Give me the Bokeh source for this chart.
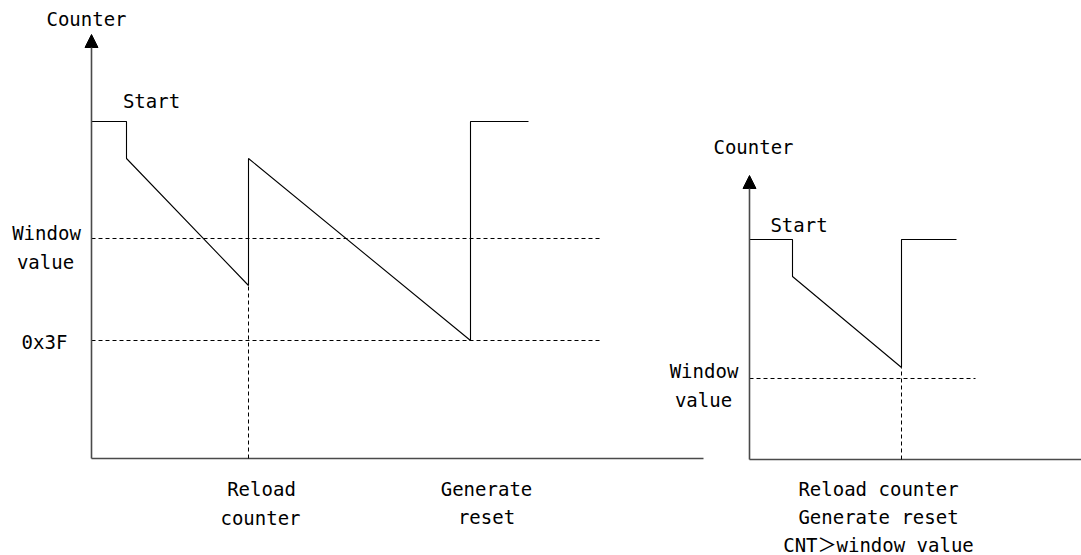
from bokeh.plotting import figure
from bokeh.models import Range1d, Arrow, NormalHead, ColumnDataSource
from bokeh.core.properties import value
from bokeh.embed import file_html
from bokeh.resources import INLINE

# ---------------- data (time units / counter units, origin at axes crossing) -------------
# Left panel: window watchdog normal refresh
left_time = [0, 35, 35, 157, 157, 379, 379, 437]
left_counter = [337, 337, 300, 173, 300, 118, 337, 337]
left_window = 220
left_0x3f = 118
left_reload_t = 157
left_reset_t = 379
left_t_max = 612
left_c_max = 424
left_dash_end = 509

# Right panel: refresh while CNT > window value
right_time = [0, 43, 43, 152, 152, 207]
right_counter = [220, 220, 183, 92, 220, 220]
right_window = 81
right_reload_t = 152
right_t_max = 340
right_c_max = 284
right_dash_end = 226

FONT = value("DejaVu Sans Mono, Noto Sans CJK SC")
FS = "19px"
AXIS_COLOR = "#4a4a4a"
W, H = 1081, 555

p = figure(width=W, height=H, x_range=Range1d(-91, W - 91), y_range=Range1d(-97, H - 97),
           x_axis_type=None, y_axis_type=None, toolbar_location=None,
           output_backend="svg", min_border=0, outline_line_color=None,
           background_fill_color="white", border_fill_color="white")
p.grid.visible = False
p.extra_x_ranges = {"rx": Range1d(-749, W - 749)}
p.extra_y_ranges = {"ry": Range1d(-96, H - 96)}

DEF = dict(x_range_name="default", y_range_name="default")
RGT = dict(x_range_name="rx", y_range_name="ry")


def draw_axes(t_max, c_max, rn):
    p.line([0, t_max], [0, 0], line_color=AXIS_COLOR, line_width=1.6, **rn)
    p.add_layout(Arrow(end=NormalHead(size=13, fill_color="black", line_color="black"),
                       x_start=0, y_start=0, x_end=0, y_end=c_max,
                       line_color=AXIS_COLOR, line_width=1.6, **rn))


def dashed(xs, ys, rn):
    p.line(xs, ys, line_color="black", line_width=1, line_dash="4 3", **rn)


def txt(xs, ys, texts, rn):
    src = ColumnDataSource(dict(x=xs, y=ys, text=texts))
    p.text(x="x", y="y", text="text", source=src, text_align="center",
           text_baseline="middle", text_font=FONT, text_font_size=FS,
           text_color="black", **rn)


# ---------------- left panel ----------------
draw_axes(left_t_max, left_c_max, DEF)
dashed([0, left_dash_end], [left_window, left_window], DEF)
dashed([0, left_dash_end], [left_0x3f, left_0x3f], DEF)
dashed([left_reload_t, left_reload_t], [0, left_counter[3]], DEF)
p.line(left_time, left_counter, line_color="black", line_width=1.1, **DEF)

txt([-5, 60, -45, -46, -47, left_reload_t + 13, left_reload_t + 12,
     left_reset_t + 16, left_reset_t + 16],
    [left_c_max + 16, left_counter[0] + 21, left_window + 6, left_window - 23,
     left_0x3f - 1, -30, -59, -30, -58],
    ["Counter", "Start", "Window", "value", "0x3F", "Reload", "counter",
     "Generate", "reset"], DEF)

# ---------------- right panel ----------------
draw_axes(right_t_max, right_c_max, RGT)
dashed([0, right_dash_end], [right_window, right_window], RGT)
dashed([right_reload_t, right_reload_t], [0, right_counter[3]], RGT)
p.line(right_time, right_counter, line_color="black", line_width=1.1, **RGT)

txt([4, 49.5, -45.5, -46, 129, 129, 129],
    [right_c_max + 29, right_counter[0] + 14.5, right_window + 8, right_window - 21,
     -29, -57, -85],
    ["Counter", "Start", "Window", "value", "Reload counter", "Generate reset",
     "CNT\uff1ewindow value"], RGT)

open("out.html", "w").write(file_html(p, INLINE))
